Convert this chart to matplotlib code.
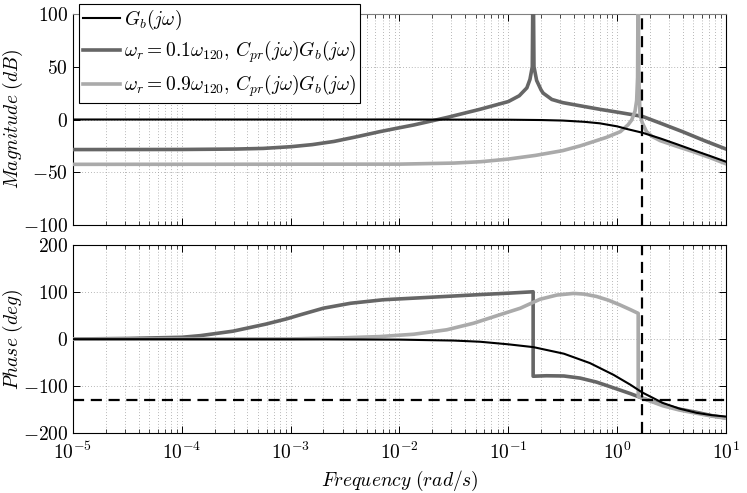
import matplotlib
matplotlib.use("Agg")
import matplotlib.pyplot as plt
from matplotlib.ticker import LogLocator, NullFormatter, FixedLocator

plt.rcParams['mathtext.fontset'] = 'cm'
plt.rcParams['font.family'] = ['DejaVu Serif']

# values
# G_b(jw)
gb_mag_w = [1e-5, 1e-3, 1e-2, 0.1, 0.2, 0.316, 0.5, 0.69, 1.0, 1.23, 1.7, 2.5, 3.55, 5.0, 7.1, 10.0]
gb_mag = [0, 0, 0, -0.2, -0.5, -1.0, -2.2, -3.6, -6.5, -9.0, -12.5, -18, -23.5, -29, -34.5, -40]
gb_ph_w = [1e-5, 1e-3, 1e-2, 0.0316, 0.055, 0.1, 0.17, 0.324, 0.562, 0.925, 1.32,
           1.7, 2.63, 3.72, 5.37, 7.41, 10.0]
gb_ph = [0, -0.3, -1, -3, -5.5, -11, -17, -31, -51, -76, -97,
         -113.6, -136, -148, -157, -162, -165]

# w_r = 0.1 w_120
c1_mag_w = [1e-5, 1e-4, 3.16e-4, 5.6e-4, 1e-3, 1.58e-3, 2.5e-3, 3.98e-3, 6.6e-3, 1e-2, 1.35e-2,
            2.75e-2, 5.5e-2, 0.1, 0.126, 0.148, 0.158, 0.166, 0.169, 0.172, 0.182, 0.2, 0.209,
            0.251, 0.316, 0.457, 0.708, 1.0, 1.7, 2.5, 3.98, 6.31, 10.0]
c1_mag = [-28.5, -28.4, -28, -27.4, -25.8, -23.8, -20.8, -16.5, -11.5, -7.8, -5.2,
          2, 9.7, 17, 22.5, 30, 38, 50, 150, 50, 37, 28, 25,
          19, 16, 13, 9.5, 7, 3, -3.5, -11.5, -20, -28]
c1_ph_w = [1e-5, 3.16e-5, 1e-4, 1.48e-4, 2.95e-4, 5.9e-4, 9.1e-4, 1.23e-3, 2e-3, 3.55e-3,
           7.1e-3, 2e-2, 5.5e-2, 0.1, 0.169, 0.169, 0.224, 0.324, 0.457, 0.646, 0.933,
           1.32, 1.7, 2.63, 3.72, 5.37, 7.41, 10.0]
c1_ph = [0.3, 1.5, 4, 7.5, 17, 32, 43, 52, 66, 76.5,
         84, 89.5, 95, 98, 101, -79, -78, -78.5, -83, -91.5, -104,
         -116, -125.6, -140, -149, -156, -163, -168]

# w_r = 0.9 w_120
c2_mag_w = [1e-5, 1e-2, 3.16e-2, 5.6e-2, 0.1, 0.178, 0.316, 0.457, 0.603, 0.794, 1.07,
            1.26, 1.36, 1.46, 1.51, 1.54, 1.56, 1.58, 1.6, 1.62, 1.7, 1.86, 2.09,
            2.48, 3.55, 5.0, 7.08, 10.0]
c2_mag = [-42.5, -42.3, -41.3, -40, -37.5, -34, -29.5, -25, -21, -17, -11.5,
          -5, -0.5, 8, 18, 40, 150, 40, 25, 5, -3, -11.5, -16,
          -20, -25.5, -30.5, -36, -42]
c2_ph_w = [1e-5, 1e-3, 3.16e-3, 6.6e-3, 1.35e-2, 2.72e-2, 4.8e-2, 7.85e-2, 0.129, 0.195,
           0.279, 0.398, 0.5, 0.646, 0.832, 1.06, 1.32, 1.56, 1.56, 1.86, 2.63,
           3.72, 5.37, 7.41, 10.0]
c2_ph = [0, 0.5, 3, 5.5, 10.5, 20, 34, 50, 66, 85,
         94, 97.5, 96, 91, 83, 73, 63, 55, -122, -129, -142,
         -151, -158, -164, -168.5]

w_cross = 1.7
ph_margin = -130

labels = [r'$G_b(j\omega)$',
          r'$\omega_r = 0.1\omega_{120},\, C_{pr}(j\omega)G_b(j\omega)$',
          r'$\omega_r = 0.9\omega_{120},\, C_{pr}(j\omega)G_b(j\omega)$']
colors = ['black', '#666666', '#aaaaaa']
widths = [1.5, 2.6, 2.6]
dash = (0, (5, 3))

fig = plt.figure(figsize=(7.47, 4.93), dpi=100)
ax1 = fig.add_axes([0.0977, 0.5436, 0.8742, 0.428])
ax2 = fig.add_axes([0.0977, 0.1217, 0.8742, 0.3807])

ax1.semilogx(gb_mag_w, gb_mag, color=colors[0], lw=widths[0], label=labels[0], zorder=4)
ax1.semilogx(c1_mag_w, c1_mag, color=colors[1], lw=widths[1], label=labels[1], zorder=3)
ax1.semilogx(c2_mag_w, c2_mag, color=colors[2], lw=widths[2], label=labels[2], zorder=3)
ax1.axvline(w_cross, color='black', lw=1.6, ls=dash, zorder=5)

ax2.semilogx(gb_ph_w, gb_ph, color=colors[0], lw=widths[0], zorder=4)
ax2.semilogx(c1_ph_w, c1_ph, color=colors[1], lw=widths[1], zorder=3)
ax2.semilogx(c2_ph_w, c2_ph, color=colors[2], lw=widths[2], zorder=3)
ax2.axvline(w_cross, color='black', lw=1.6, ls=dash, zorder=5)
ax2.axhline(ph_margin, color='black', lw=1.6, ls=dash, zorder=5)

xt = [1e-5, 1e-4, 1e-3, 1e-2, 1e-1, 1e0, 1e1]
for ax in (ax1, ax2):
    ax.set_xlim(1e-5, 10)
    ax.xaxis.set_major_locator(FixedLocator(xt))
    ax.xaxis.set_minor_locator(LogLocator(base=10, subs=range(2, 10), numticks=20))
    ax.xaxis.set_minor_formatter(NullFormatter())
    ax.tick_params(which='both', direction='in', top=True, right=True, labelsize=14)
    ax.tick_params(which='major', length=5, width=0.7)
    ax.tick_params(which='minor', length=3, width=0.5)
    ax.tick_params(axis='x', pad=6)
    ax.grid(which='major', ls=(0, (1, 2.5)), color='#a0a0a0', lw=0.6)
    ax.grid(which='minor', axis='x', ls=(0, (1, 2.5)), color='#a0a0a0', lw=0.6)
    ax.set_axisbelow(True)
    for s in ax.spines.values():
        s.set_linewidth(0.8)
ax1.spines['top'].set_color('#808080')

ax1.set_ylim(-100, 100)
ax1.set_yticks([-100, -50, 0, 50, 100])
ax1.set_yticklabels(['$-100$', '$-50$', '$0$', '$50$', '$100$'])
ax1.set_xticklabels([])
ax1.set_ylabel(r'$Magnitude\ (dB)$', fontsize=14)

ax2.set_ylim(-200, 200)
ax2.set_yticks([-200, -100, 0, 100, 200])
ax2.set_yticklabels(['$-200$', '$-100$', '$0$', '$100$', '$200$'])
ax2.set_xticklabels(['$10^{-5}$', '$10^{-4}$', '$10^{-3}$', '$10^{-2}$',
                     '$10^{-1}$', '$10^{0}$', '$10^{1}$'])
ax2.set_ylabel(r'$Phase\ (deg)$', fontsize=14)
ax2.set_xlabel(r'$Frequency\ (rad/s)$', fontsize=14)

ax1.yaxis.set_label_coords(-0.074, 0.5)
ax2.yaxis.set_label_coords(-0.074, 0.5)
ax2.xaxis.set_label_coords(0.5, -0.192)

leg = ax1.legend(loc='upper left', bbox_to_anchor=(79 / 747, 1 - 4 / 493),
                 bbox_transform=fig.transFigure, borderaxespad=0, fontsize=14,
                 fancybox=False, framealpha=1, edgecolor='black',
                 handlelength=1.9, handletextpad=0.2, labelspacing=0.35,
                 borderpad=0.2)
leg.get_frame().set_linewidth(0.8)
leg.set_zorder(10)

fig.savefig('out.png', dpi=100)
